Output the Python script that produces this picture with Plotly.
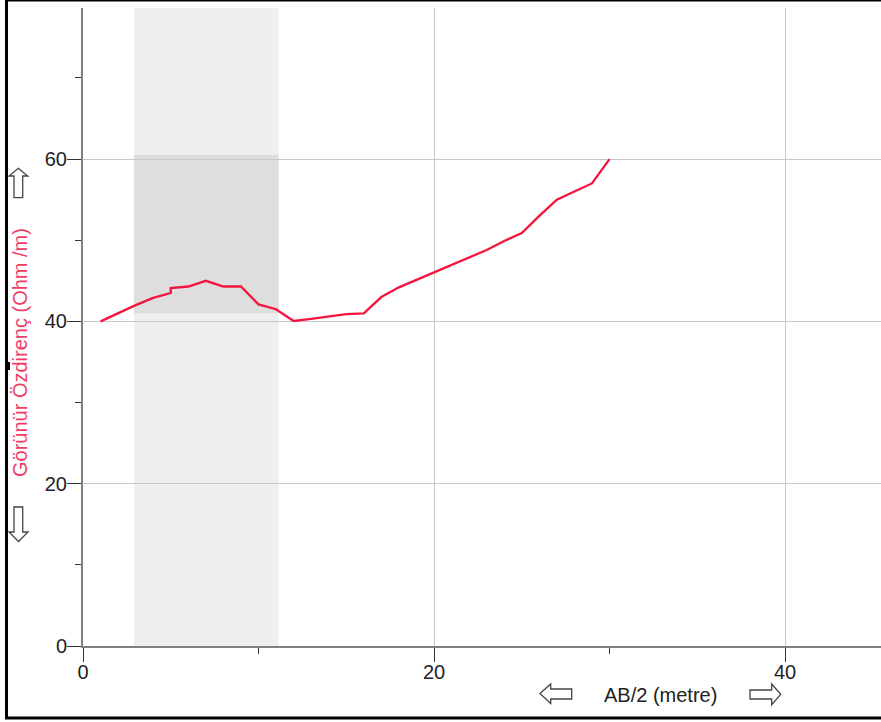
import plotly.graph_objects as go

# ---- data ----
ab2 = [1, 2, 3, 4, 5, 5, 6, 7, 8, 9, 10, 11, 12, 13, 14, 15, 16, 17, 18, 19, 20,
       21, 22, 23, 24, 25, 26, 27, 28, 29, 30]
rho = [40.0, 41.0, 42.0, 42.9, 43.5, 44.1, 44.3, 45.0, 44.3, 44.3, 42.1, 41.5, 40.05,
       40.3, 40.6, 40.9, 41.0, 43.0, 44.2, 45.1, 46.0, 46.9, 47.9, 48.8, 49.9, 50.9,
       53.0, 55.0, 56.0, 57.0, 60.0]
shade_x = [2.9, 11.15]
shade_y = [41.0, 60.5]
x_title = "AB/2 (metre)"
y_title = "Görünür Özdirenç (Ohm /m)"

W, H = 881, 722
L, R, T, B = 83, 881, 8, 646


def px(x):
    return (x - L) / (R - L)


def py(y):
    return (B - y) / (B - T)


def path(points):
    return "M " + " L ".join(f"{px(a):.5f},{py(b):.5f}" for a, b in points) + " Z"


FONT = "Liberation Sans, Arial, sans-serif"

fig = go.Figure()
fig.add_trace(go.Scatter(x=ab2, y=rho, mode="lines",
                         line=dict(color="#f5143c", width=2.3),
                         showlegend=False, hoverinfo="x+y"))

shapes = [
    dict(type="rect", xref="x", yref="paper", x0=shade_x[0], x1=shade_x[1], y0=0, y1=1,
         fillcolor="#efefef", line=dict(width=0), layer="below"),
    dict(type="rect", xref="x", yref="y", x0=shade_x[0], x1=shade_x[1], y0=shade_y[0], y1=shade_y[1],
         fillcolor="#dedede", line=dict(width=0), layer="below"),
    # frame
    dict(type="rect", xref="paper", yref="paper", x0=px(6.5), x1=px(1000), y0=py(718), y1=py(0),
         line=dict(color="#000000", width=3), fillcolor="rgba(0,0,0,0)", layer="above"),
    dict(type="rect", xref="paper", yref="paper", x0=px(7), x1=px(10), y0=py(370), y1=py(362),
         line=dict(width=0), fillcolor="#000000"),
]
arrow_style = dict(type="path", xref="paper", yref="paper", fillcolor="#ffffff",
                   line=dict(color="#444444", width=1.3))
for pts in [
    [(18.3, 168.3), (27.7, 176), (22.7, 176), (22.7, 197.7), (14, 197.7), (14, 176), (9, 176)],
    [(14, 507), (22.7, 507), (22.7, 532), (28, 532), (18.5, 541.5), (9, 532), (14, 532)],
    [(540, 693.5), (550.7, 684), (550.7, 689), (571.7, 689), (571.7, 699), (550.7, 699), (550.7, 703.5)],
    [(750, 690), (771.7, 690), (771.7, 684), (780.7, 694.3), (771.7, 704.7), (771.7, 699), (750, 699)],
]:
    shapes.append(dict(arrow_style, path=path(pts)))

annotations = [
    dict(text=x_title, xref="paper", yref="paper", x=px(660.5), y=py(695),
         xanchor="center", yanchor="middle", showarrow=False,
         font=dict(family=FONT, size=20, color="#222222")),
    dict(text=y_title, xref="paper", yref="paper", x=px(20), y=py(353),
         xanchor="center", yanchor="middle", showarrow=False, textangle=-90,
         font=dict(family=FONT, size=20, color="#f03c64")),
]

axis_common = dict(
    showline=True, linecolor="#808080", linewidth=2,
    showgrid=True, gridcolor="#c8c8c8", gridwidth=1,
    zeroline=False, ticks="outside", ticklen=14, tickwidth=1, tickcolor="#333333",
    tickfont=dict(family=FONT, size=20, color="#1e1e28"),
    dtick=20, tick0=0,
    minor=dict(dtick=10, tick0=0, ticks="outside", ticklen=6, tickwidth=1,
               tickcolor="#333333", showgrid=False),
    fixedrange=True,
)

fig.update_layout(
    width=W, height=H,
    margin=dict(l=L, r=W - R, t=T, b=H - B),
    paper_bgcolor="#ffffff", plot_bgcolor="#ffffff",
    xaxis=dict(axis_common, range=[0, (R - L) / 17.55], ticklabelstandoff=-7),
    yaxis=dict(axis_common, range=[0, (B - T) / 8.115], ticklabelstandoff=-4),
    shapes=shapes, annotations=annotations,
    showlegend=False,
)

fig.write_html("out.html")
